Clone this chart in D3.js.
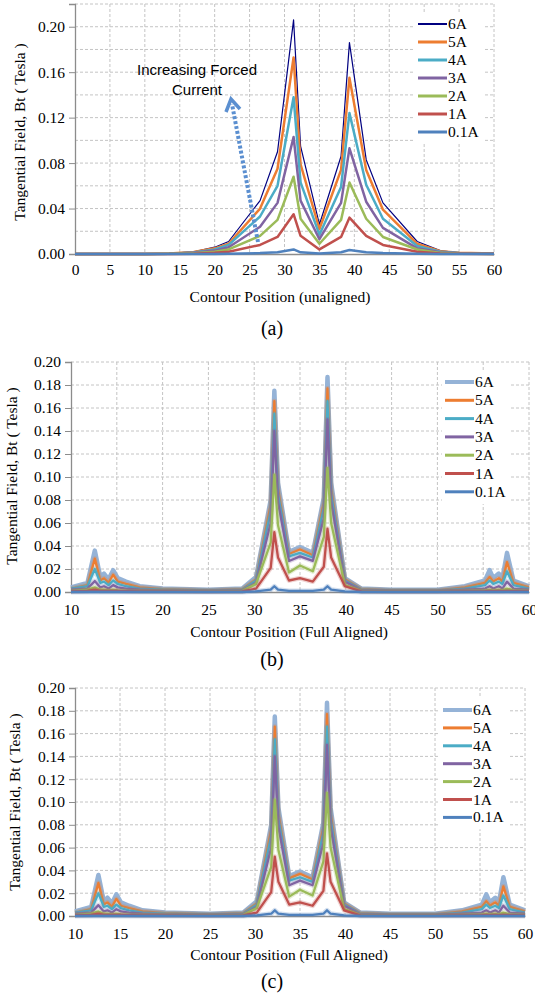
<!DOCTYPE html>
<html>
<head>
<meta charset="utf-8">
<script src="https://cdn.jsdelivr.net/npm/d3@7"></script>
<style>
  body { margin: 0; background: #fff; }
  svg text { font-family: "Liberation Serif", "DejaVu Serif", serif; fill: #000; }
</style>
</head>
<body>
<div id="chart"></div>
<script>
// ---------- data ----------
const seriesNames = ["6A", "5A", "4A", "3A", "2A", "1A", "0.1A"];

// (a) unaligned
const posA = [0, 5, 10, 13.5, 17, 20, 22, 26.5, 29, 31.3, 32.3, 35, 38.1, 39.3, 41.7, 44.1, 49, 52.3, 55, 60];
const a6A  = [0, 0, 0, 0.0005, 0.002, 0.006, 0.011, 0.047, 0.090, 0.206, 0.095, 0.026, 0.086, 0.186, 0.083, 0.045, 0.011, 0.003, 0.001, 0.0005];
const a5A  = [0, 0, 0, 0.0004, 0.0017, 0.005, 0.009, 0.040, 0.075, 0.173, 0.079, 0.022, 0.074, 0.155, 0.074, 0.039, 0.009, 0.0025, 0.001, 0.0004];
const a4A  = [0, 0, 0, 0.0003, 0.0014, 0.004, 0.008, 0.033, 0.060, 0.138, 0.063, 0.017, 0.059, 0.124, 0.061, 0.031, 0.007, 0.002, 0.0008, 0.0003];
const a3A  = [0, 0, 0, 0.0002, 0.001, 0.003, 0.006, 0.024, 0.045, 0.103, 0.047, 0.013, 0.045, 0.093, 0.046, 0.023, 0.005, 0.0015, 0.0006, 0.0002];
const a2A  = [0, 0, 0, 0.0002, 0.0007, 0.002, 0.004, 0.016, 0.030, 0.068, 0.031, 0.009, 0.030, 0.063, 0.031, 0.015, 0.004, 0.001, 0.0004, 0.0001];
const a1A  = [0, 0, 0, 0.0001, 0.0003, 0.001, 0.002, 0.008, 0.015, 0.035, 0.016, 0.004, 0.015, 0.032, 0.016, 0.008, 0.002, 0.0005, 0.0002, 0.0001];
const a01A = [0, 0, 0, 0, 0, 0.0001, 0.0002, 0.0008, 0.0015, 0.004, 0.0015, 0.0004, 0.0015, 0.0035, 0.0015, 0.0008, 0.0002, 0, 0, 0];

// (b), (c) full aligned
const posF = [10, 11.8, 12.6, 13.2, 13.6, 14.1, 14.6, 15.1, 16, 17.5, 20, 25, 28.7, 30.2, 31.8, 32.2, 32.6, 33.8, 35, 36.4, 37.6, 38, 38.4, 39.9, 41.7, 45, 50, 53, 55.2, 55.7, 56.1, 56.7, 57.1, 57.6, 58.3, 60];
const f6A  = [0.004, 0.008, 0.036, 0.013, 0.016, 0.011, 0.019, 0.012, 0.009, 0.005, 0.003, 0.002, 0.003, 0.013, 0.080, 0.175, 0.095, 0.035, 0.039, 0.034, 0.082, 0.187, 0.095, 0.012, 0.003, 0.002, 0.002, 0.005, 0.010, 0.019, 0.012, 0.016, 0.012, 0.034, 0.010, 0.005];
const f5A  = [0.003, 0.006, 0.029, 0.010, 0.012, 0.008, 0.015, 0.009, 0.007, 0.004, 0.0025, 0.0015, 0.0025, 0.011, 0.076, 0.166, 0.090, 0.033, 0.037, 0.032, 0.078, 0.177, 0.090, 0.011, 0.0025, 0.0015, 0.0015, 0.004, 0.008, 0.013, 0.009, 0.012, 0.009, 0.026, 0.008, 0.004];
const f4A  = [0.003, 0.005, 0.020, 0.008, 0.009, 0.006, 0.010, 0.007, 0.005, 0.003, 0.002, 0.0012, 0.002, 0.010, 0.070, 0.155, 0.085, 0.031, 0.034, 0.030, 0.073, 0.166, 0.085, 0.010, 0.002, 0.0012, 0.0012, 0.003, 0.006, 0.010, 0.007, 0.009, 0.007, 0.018, 0.006, 0.003];
const f3A  = [0.002, 0.003, 0.0095, 0.004, 0.005, 0.003, 0.006, 0.004, 0.003, 0.002, 0.0015, 0.001, 0.0015, 0.008, 0.060, 0.140, 0.078, 0.027, 0.031, 0.027, 0.064, 0.150, 0.078, 0.009, 0.0015, 0.001, 0.001, 0.002, 0.003, 0.005, 0.003, 0.005, 0.003, 0.009, 0.003, 0.002];
const f2A  = [0.001, 0.002, 0.004, 0.002, 0.002, 0.0015, 0.002, 0.0015, 0.0012, 0.001, 0.001, 0.0008, 0.001, 0.007, 0.043, 0.102, 0.058, 0.017, 0.023, 0.018, 0.048, 0.108, 0.060, 0.006, 0.001, 0.0008, 0.0008, 0.001, 0.0015, 0.002, 0.0015, 0.002, 0.0015, 0.003, 0.0015, 0.001];
const f1A  = [0.0005, 0.001, 0.002, 0.001, 0.001, 0.001, 0.001, 0.001, 0.0008, 0.0006, 0.0005, 0.0004, 0.0005, 0.003, 0.021, 0.052, 0.030, 0.010, 0.012, 0.009, 0.022, 0.055, 0.030, 0.005, 0.0005, 0.0004, 0.0004, 0.0005, 0.0008, 0.001, 0.0008, 0.001, 0.0008, 0.001, 0.0008, 0.0005];
const f01A = [0, 0, 0, 0, 0, 0, 0, 0, 0, 0, 0, 0, 0, 0.0005, 0.002, 0.005, 0.002, 0.001, 0.001, 0.001, 0.002, 0.005, 0.002, 0.0005, 0, 0, 0, 0, 0, 0, 0, 0, 0, 0, 0, 0];

const xTicksA = d3.range(0, 61, 5);
const xTicksF = d3.range(10, 61, 5);

// ---------- drawing ----------
const svg = d3.select("#chart").append("svg")
    .attr("width", 535).attr("height", 993);

const colorsA = ["#000080", "#ED7D31", "#4BACC6", "#8064A2", "#9BBB59", "#C0504D", "#4F81BD"];
const colorsF = ["#95B3D7", "#ED7D31", "#4BACC6", "#8064A2", "#9BBB59", "#C0504D", "#4F81BD"];
const SERIF = "Liberation Serif, DejaVu Serif, serif";

function drawPanel(p) {
  const x = d3.scaleLinear().domain(p.xDomain).range([p.left, p.right]);
  const y = d3.scaleLinear().domain(p.yDomain).range([p.bottom, p.top]);
  const g = svg.append("g");

  // grid
  g.append("g").selectAll("line").data(p.yGrid).enter().append("line")
      .attr("x1", p.left).attr("x2", p.right)
      .attr("y1", d => y(d)).attr("y2", d => y(d))
      .attr("stroke", "#c4c4c4").attr("stroke-dasharray", "3,2");
  g.append("g").selectAll("line").data(p.xTicks.slice(1)).enter().append("line")
      .attr("x1", d => x(d)).attr("x2", d => x(d))
      .attr("y1", p.top).attr("y2", p.bottom)
      .attr("stroke", "#c4c4c4").attr("stroke-dasharray", "3,2");

  // axes
  const yAxis = d3.axisLeft(y).tickValues(p.yTicks).tickFormat(d3.format(".2f")).tickSize(6).tickPadding(4);
  const ya = g.append("g").attr("transform", `translate(${p.left},0)`).call(yAxis)
      .attr("font-family", SERIF).attr("font-size", 15.5);
  ya.select(".domain").attr("stroke", "#8c8c8c").attr("stroke-width", 1.3);
  ya.selectAll(".tick line").attr("stroke", "#8c8c8c");

  const xAxis = d3.axisBottom(x).tickValues(p.xTicks).tickSize(0).tickPadding(p.xPad);
  const xa = g.append("g").attr("transform", `translate(0,${p.bottom})`).call(xAxis)
      .attr("font-family", SERIF).attr("font-size", 15.5);
  xa.select(".domain").attr("stroke", "#8c8c8c").attr("stroke-width", 1.3);

  // series (soft halo underneath like the original glow)
  const line = d3.line().x(d => x(d[0])).y(d => y(d[1]));
  p.series.forEach((vals, i) => {
    const pts = p.xs.map((v, j) => [v, vals[j]]);
    if (p.glow && i > 0) {
      g.append("path").datum(pts)
        .attr("d", line).attr("fill", "none")
        .attr("stroke", p.colors[i]).attr("stroke-opacity", 0.25)
        .attr("stroke-width", p.widths[i] + 2.5)
        .attr("stroke-linejoin", "round");
    }
    g.append("path").datum(pts)
      .attr("d", line)
      .attr("fill", "none")
      .attr("stroke", p.colors[i])
      .attr("stroke-width", p.widths[i])
      .attr("stroke-linejoin", "round");
  });

  // legend
  const lg = g.append("g");
  lg.append("rect").attr("x", p.legend.x - 3).attr("y", p.legend.y - 12)
      .attr("width", 68).attr("height", p.legend.step * 7 + 6).attr("fill", "#fff");
  seriesNames.forEach((name, i) => {
    const ly = p.legend.y + i * p.legend.step;
    lg.append("line").attr("x1", p.legend.x).attr("x2", p.legend.x + 29)
        .attr("y1", ly).attr("y2", ly)
        .attr("stroke", p.colors[i]).attr("stroke-width", p.legendWidths[i]);
    lg.append("text").attr("x", p.legend.x + 30).attr("y", ly + 5)
        .style("font-size", "15.5px").text(name);
  });

  // labels
  g.append("text")
      .attr("transform", `translate(${p.yLabel[0]},${p.yLabel[1]}) rotate(-90)`)
      .attr("text-anchor", "middle").attr("dy", "0.35em")
      .style("font-size", "15.5px")
      .text("Tangential Field, Bt ( Tesla )");
  g.append("text").attr("x", p.xLabel[0]).attr("y", p.xLabel[1])
      .attr("text-anchor", "middle").style("font-size", "15.5px")
      .text(p.xTitle);
  g.append("text").attr("x", p.tag[0]).attr("y", p.tag[1])
      .attr("text-anchor", "middle").style("font-size", "20px")
      .text(p.tagText);
  return { x, y, g };
}

const panelA = drawPanel({
  xDomain: [0, 60], yDomain: [0, 0.22],
  left: 75, right: 494, top: 4, bottom: 254,
  xTicks: xTicksA, yTicks: [0, 0.04, 0.08, 0.12, 0.16, 0.20],
  yGrid: [0.02, 0.04, 0.06, 0.08, 0.10, 0.12, 0.14, 0.16, 0.18, 0.20, 0.22],
  xPad: 10, glow: false,
  xs: posA, series: [a6A, a5A, a4A, a3A, a2A, a1A, a01A],
  colors: colorsA, widths: [1.2, 2.5, 2.5, 2.5, 2.5, 2.5, 2.5],
  legendWidths: [2, 3, 3, 3, 3, 3, 3],
  legend: { x: 418, y: 24, step: 18 },
  yLabel: [20, 132], xLabel: [280, 302], xTitle: "Contour Position (unaligned)",
  tag: [272, 335], tagText: "(a)"
});

drawPanel({
  xDomain: [10, 60], yDomain: [0, 0.20],
  left: 71, right: 529, top: 362, bottom: 592,
  xTicks: xTicksF, yTicks: d3.range(0, 0.201, 0.02),
  yGrid: d3.range(0.02, 0.201, 0.02),
  xPad: 12, glow: true,
  xs: posF, series: [f6A, f5A, f4A, f3A, f2A, f1A, f01A],
  colors: colorsF, widths: [4.5, 2.3, 2.3, 2.3, 2.3, 2.3, 2.3],
  legendWidths: [4, 3, 3, 3, 3, 3, 3],
  legend: { x: 445, y: 382, step: 18.3 },
  yLabel: [12, 476], xLabel: [289, 637], xTitle: "Contour Position (Full Aligned)",
  tag: [272, 666], tagText: "(b)"
});

drawPanel({
  xDomain: [10, 60], yDomain: [0, 0.20],
  left: 75, right: 525, top: 688, bottom: 916,
  xTicks: xTicksF, yTicks: d3.range(0, 0.201, 0.02),
  yGrid: d3.range(0.02, 0.201, 0.02),
  xPad: 12, glow: true,
  xs: posF, series: [f6A, f5A, f4A, f3A, f2A, f1A, f01A],
  colors: colorsF, widths: [4.5, 2.3, 2.3, 2.3, 2.3, 2.3, 2.3],
  legendWidths: [4, 3, 3, 3, 3, 3, 3],
  legend: { x: 443, y: 710, step: 17.9 },
  yLabel: [15, 802], xLabel: [289, 960], xTitle: "Contour Position (Full Aligned)",
  tag: [272, 988], tagText: "(c)"
});

// annotation in (a)
const ann = panelA.g;
ann.append("text").attr("x", 197).attr("y", 75).attr("text-anchor", "middle")
    .style("font-family", "Liberation Sans").style("font-size", "15px")
    .text("Increasing  Forced");
ann.append("text").attr("x", 197).attr("y", 95).attr("text-anchor", "middle")
    .style("font-family", "Liberation Sans").style("font-size", "15px")
    .text("Current");
ann.append("line").attr("x1", 258).attr("y1", 242).attr("x2", 232).attr("y2", 104)
    .attr("stroke", "#5B8FD0").attr("stroke-width", 4).attr("stroke-dasharray", "3,2");
ann.append("path").attr("d", "M226,112 L231,99 L240,109")
    .attr("fill", "none").attr("stroke", "#5B8FD0").attr("stroke-width", 3.5);
</script>
</body>
</html>
